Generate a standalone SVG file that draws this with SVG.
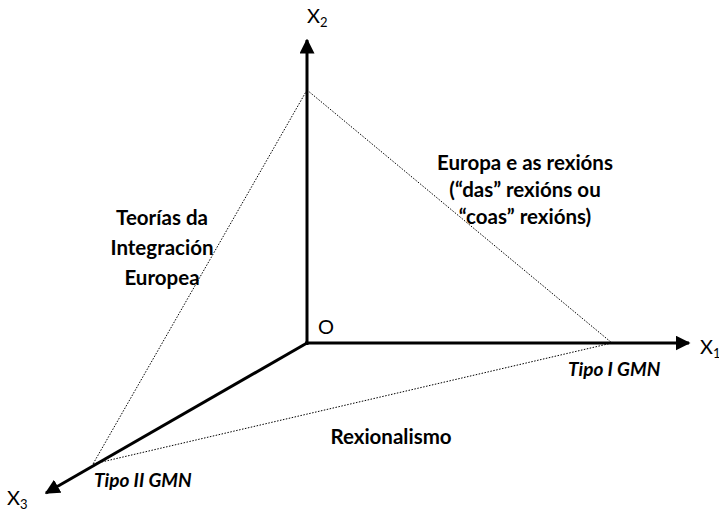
<svg xmlns="http://www.w3.org/2000/svg" width="719" height="514" viewBox="0 0 719 514">
<style>
.axis{stroke:#000;stroke-width:3;fill:none}
.dot{stroke:#000;stroke-width:1;stroke-dasharray:1.5 1.5;fill:none}
.lbl{font-family:Lato,"Liberation Sans",sans-serif;font-weight:bold;font-size:20.5px;fill:#000;text-anchor:middle}
.it{font-family:Lato,"Liberation Sans",sans-serif;font-weight:bold;font-style:italic;font-size:19px;fill:#000}
.ax{font-family:Lato,"Liberation Sans",sans-serif;font-size:20px;fill:#000}
.sub{font-size:13px}
</style>
<defs>
<marker id="arr" viewBox="0 0 10 10" refX="9" refY="5" markerWidth="5" markerHeight="5" orient="auto" markerUnits="strokeWidth">
<path d="M0,0 L10,5 L0,10 Z" fill="#000"/>
</marker>
</defs>
<rect width="719" height="514" fill="#fff"/>
<g id="connectors">
<line class="dot" x1="307" y1="90" x2="93" y2="464"/>
<line class="dot" x1="307" y1="90" x2="612" y2="343"/>
<line class="dot" x1="93" y1="464" x2="612" y2="343"/>
<line class="axis" x1="307" y1="345" x2="307" y2="40" marker-end="url(#arr)"/>
<line class="axis" x1="305" y1="343" x2="689" y2="343" marker-end="url(#arr)"/>
<line class="axis" x1="307" y1="343" x2="46" y2="493" marker-end="url(#arr)"/>
</g>
<g id="axis-labels">
<text class="ax" x="307" y="23">X<tspan class="sub" dy="4">2</tspan></text>
<text class="ax" x="700" y="354">X<tspan class="sub" dy="4">1</tspan></text>
<text class="ax" x="7" y="505">X<tspan class="sub" dy="4">3</tspan></text>
<text class="ax" x="318" y="334">O</text>
</g>
<g id="teorias">
<text class="lbl" x="162" y="225">Teorías da</text>
<text class="lbl" x="162" y="255">Integración</text>
<text class="lbl" x="162" y="285">Europea</text>
</g>
<g id="europa">
<text class="lbl" x="525" y="170">Europa e as rexións</text>
<text class="lbl" x="525" y="197">(“das” rexións ou</text>
<text class="lbl" x="525" y="224">“coas” rexións)</text>
</g>
<g id="rexionalismo">
<text class="lbl" x="391" y="444">Rexionalismo</text>
</g>
<g id="tipo1">
<text class="it" x="568" y="376">Tipo I GMN</text>
</g>
<g id="tipo2">
<text class="it" x="94" y="487">Tipo II GMN</text>
</g>
</svg>
